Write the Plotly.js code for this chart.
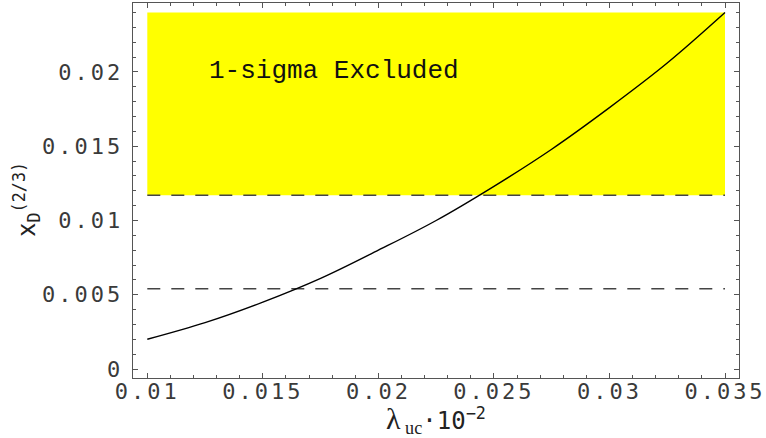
<!DOCTYPE html>
<html>
<head>
<meta charset="utf-8">
<script src="https://cdn.plot.ly/plotly-3.0.1.min.js"></script>
<style>
  html, body { margin: 0; padding: 0; background: #fff; }
</style>
</head>
<body>
<div id="chart" style="width:766px;height:438px;"></div>
<script>
// Curve: x_D^(2/3) versus lambda_uc * 10^-2
const lambdaVals = [0.010, 0.0125, 0.015, 0.0175, 0.020, 0.0225, 0.025, 0.0275, 0.030, 0.0325, 0.035];
const xdVals     = [0.0020, 0.00312, 0.0045, 0.0061, 0.0080, 0.0100, 0.0123, 0.0148, 0.0176, 0.0206, 0.0240];

// 1-sigma excluded region (x span, y span)
const regionX = [0.010, 0.035];
const regionY = [0.0117, 0.0240];

// Dashed bound levels
const boundLevels = [0.0117, 0.0054];

const regionLabel = "1-sigma Excluded";
const regionLabelPos = [0.01258, 0.0201];

const xTitle = '<span style="font-family:Liberation Serif;font-size:30px">λ</span><span style="font-family:Liberation Serif;font-size:26px"><sub> uc</sub></span>·10<sup>−2</sup>';
const yTitle = 'x<sub>D</sub><sup>(2/3)</sup>';

const traces = [];

traces.push({
  type: 'scatter', mode: 'lines',
  x: [regionX[0], regionX[1], regionX[1], regionX[0], regionX[0]],
  y: [regionY[0], regionY[0], regionY[1], regionY[1], regionY[0]],
  fill: 'toself', fillcolor: '#ffff00',
  line: {width: 0, color: '#ffff00'},
  hoverinfo: 'skip', showlegend: false
});

boundLevels.forEach(v => {
  traces.push({
    type: 'scatter', mode: 'lines',
    x: [regionX[0], regionX[1]], y: [v, v],
    line: {color: '#444', width: 1.4, dash: '13px,11px'},
    showlegend: false
  });
});

traces.push({
  type: 'scatter', mode: 'lines',
  x: lambdaVals, y: xdVals,
  line: {color: '#000', width: 1.4, shape: 'spline'},
  showlegend: false
});

const tickFont = {family: 'DejaVu Sans Mono', size: 22, color: '#3a3a3a'};
const axisCommon = {
  showgrid: false, zeroline: false,
  showline: true, linecolor: '#555', linewidth: 1.3, mirror: 'ticks',
  ticks: 'inside', ticklen: 5, tickwidth: 1, tickcolor: '#555',
  tickfont: tickFont,
  minor: {dtick: 0.001, ticks: 'inside', ticklen: 3, tickwidth: 1, tickcolor: '#555', showgrid: false},
  automargin: false
};

const layout = {
  width: 766, height: 438,
  margin: {l: 133, r: 27, t: 3, b: 60},
  paper_bgcolor: '#fff', plot_bgcolor: '#fff',
  xaxis: Object.assign({}, axisCommon, {
    range: [0.009381, 0.035606],
    tick0: 0, dtick: 0.005,
    ticklabelstandoff: -7
  }),
  yaxis: Object.assign({}, axisCommon, {
    range: [-0.000606, 0.024646],
    tick0: 0, dtick: 0.005,
    ticklabelstandoff: 4
  }),
  annotations: [{
    x: regionLabelPos[0], y: regionLabelPos[1], xref: 'x', yref: 'y',
    xanchor: 'left', yanchor: 'middle', showarrow: false,
    text: regionLabel,
    font: {family: 'Liberation Mono', size: 26, color: '#111'}
  }, {
    x: 0.5, y: 0, xref: 'paper', yref: 'paper',
    xanchor: 'center', yanchor: 'top', yshift: -22, showarrow: false,
    text: xTitle,
    font: {family: 'DejaVu Sans Mono', size: 24, color: '#222'}
  }, {
    x: 0, y: 0.4747, xref: 'paper', yref: 'paper',
    xanchor: 'center', yanchor: 'middle', xshift: -106, showarrow: false,
    textangle: -90,
    text: yTitle,
    font: {family: 'DejaVu Sans Mono', size: 24, color: '#222'}
  }]
};

Plotly.newPlot('chart', traces, layout, {displayModeBar: false, staticPlot: true}).then(() => {
  document.querySelectorAll('.xtick text, .ytick text').forEach(t => {
    t.style.setProperty('letter-spacing', '3px', 'important');
  });
});
</script>
</body>
</html>
